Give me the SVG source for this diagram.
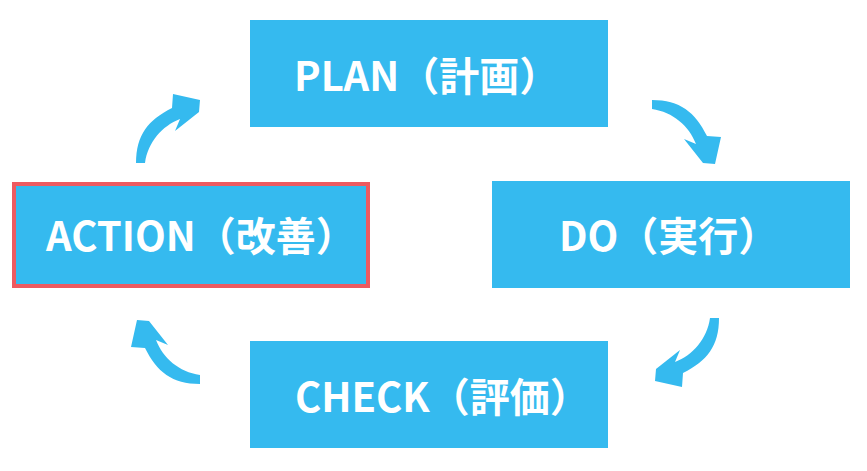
<svg xmlns="http://www.w3.org/2000/svg" width="867" height="471" viewBox="0 0 867 471">
<style>
.box{fill:#35BAEF}
.sel{stroke:#EE5A60;stroke-width:4}
.lbl{font-family:"Noto Sans CJK JP","Noto Sans",sans-serif;font-weight:700;font-size:40px;fill:#FFFFFF}
.arr{fill:#35BAEF}
</style>
<defs>
<path id="arrow" d="M -4,0 C -4,-28 8,-43 32,-55 L 33,-69 L 60,-63 L 59,-51 L 35,-32 L 40,-44 C 22,-37 8,-21 5,0 Z"/>
</defs>
<rect width="867" height="471" fill="#FFFFFF"/>
<g id="connectors">
<use href="#arrow" class="arr" transform="translate(140,163)"/>
<use href="#arrow" class="arr" transform="translate(652,104) rotate(90)"/>
<use href="#arrow" class="arr" transform="translate(715,318) rotate(180)"/>
<use href="#arrow" class="arr" transform="translate(200,380) rotate(270)"/>
</g>
<g id="plan">
<rect class="box" x="250" y="20" width="358" height="107"/>
<text class="lbl" x="294" y="91">PLAN（計画）</text>
</g>
<g id="do">
<rect class="box" x="492" y="181" width="358" height="107"/>
<text class="lbl" x="559" y="251">DO（実行）</text>
</g>
<g id="check">
<rect class="box" x="250" y="341" width="358" height="107"/>
<text class="lbl" x="295" y="412">CHECK（評価）</text>
</g>
<g id="action">
<rect class="box sel" x="14" y="184" width="354" height="102"/>
<text class="lbl" x="46" y="251">ACTION（改善）</text>
</g>
</svg>
